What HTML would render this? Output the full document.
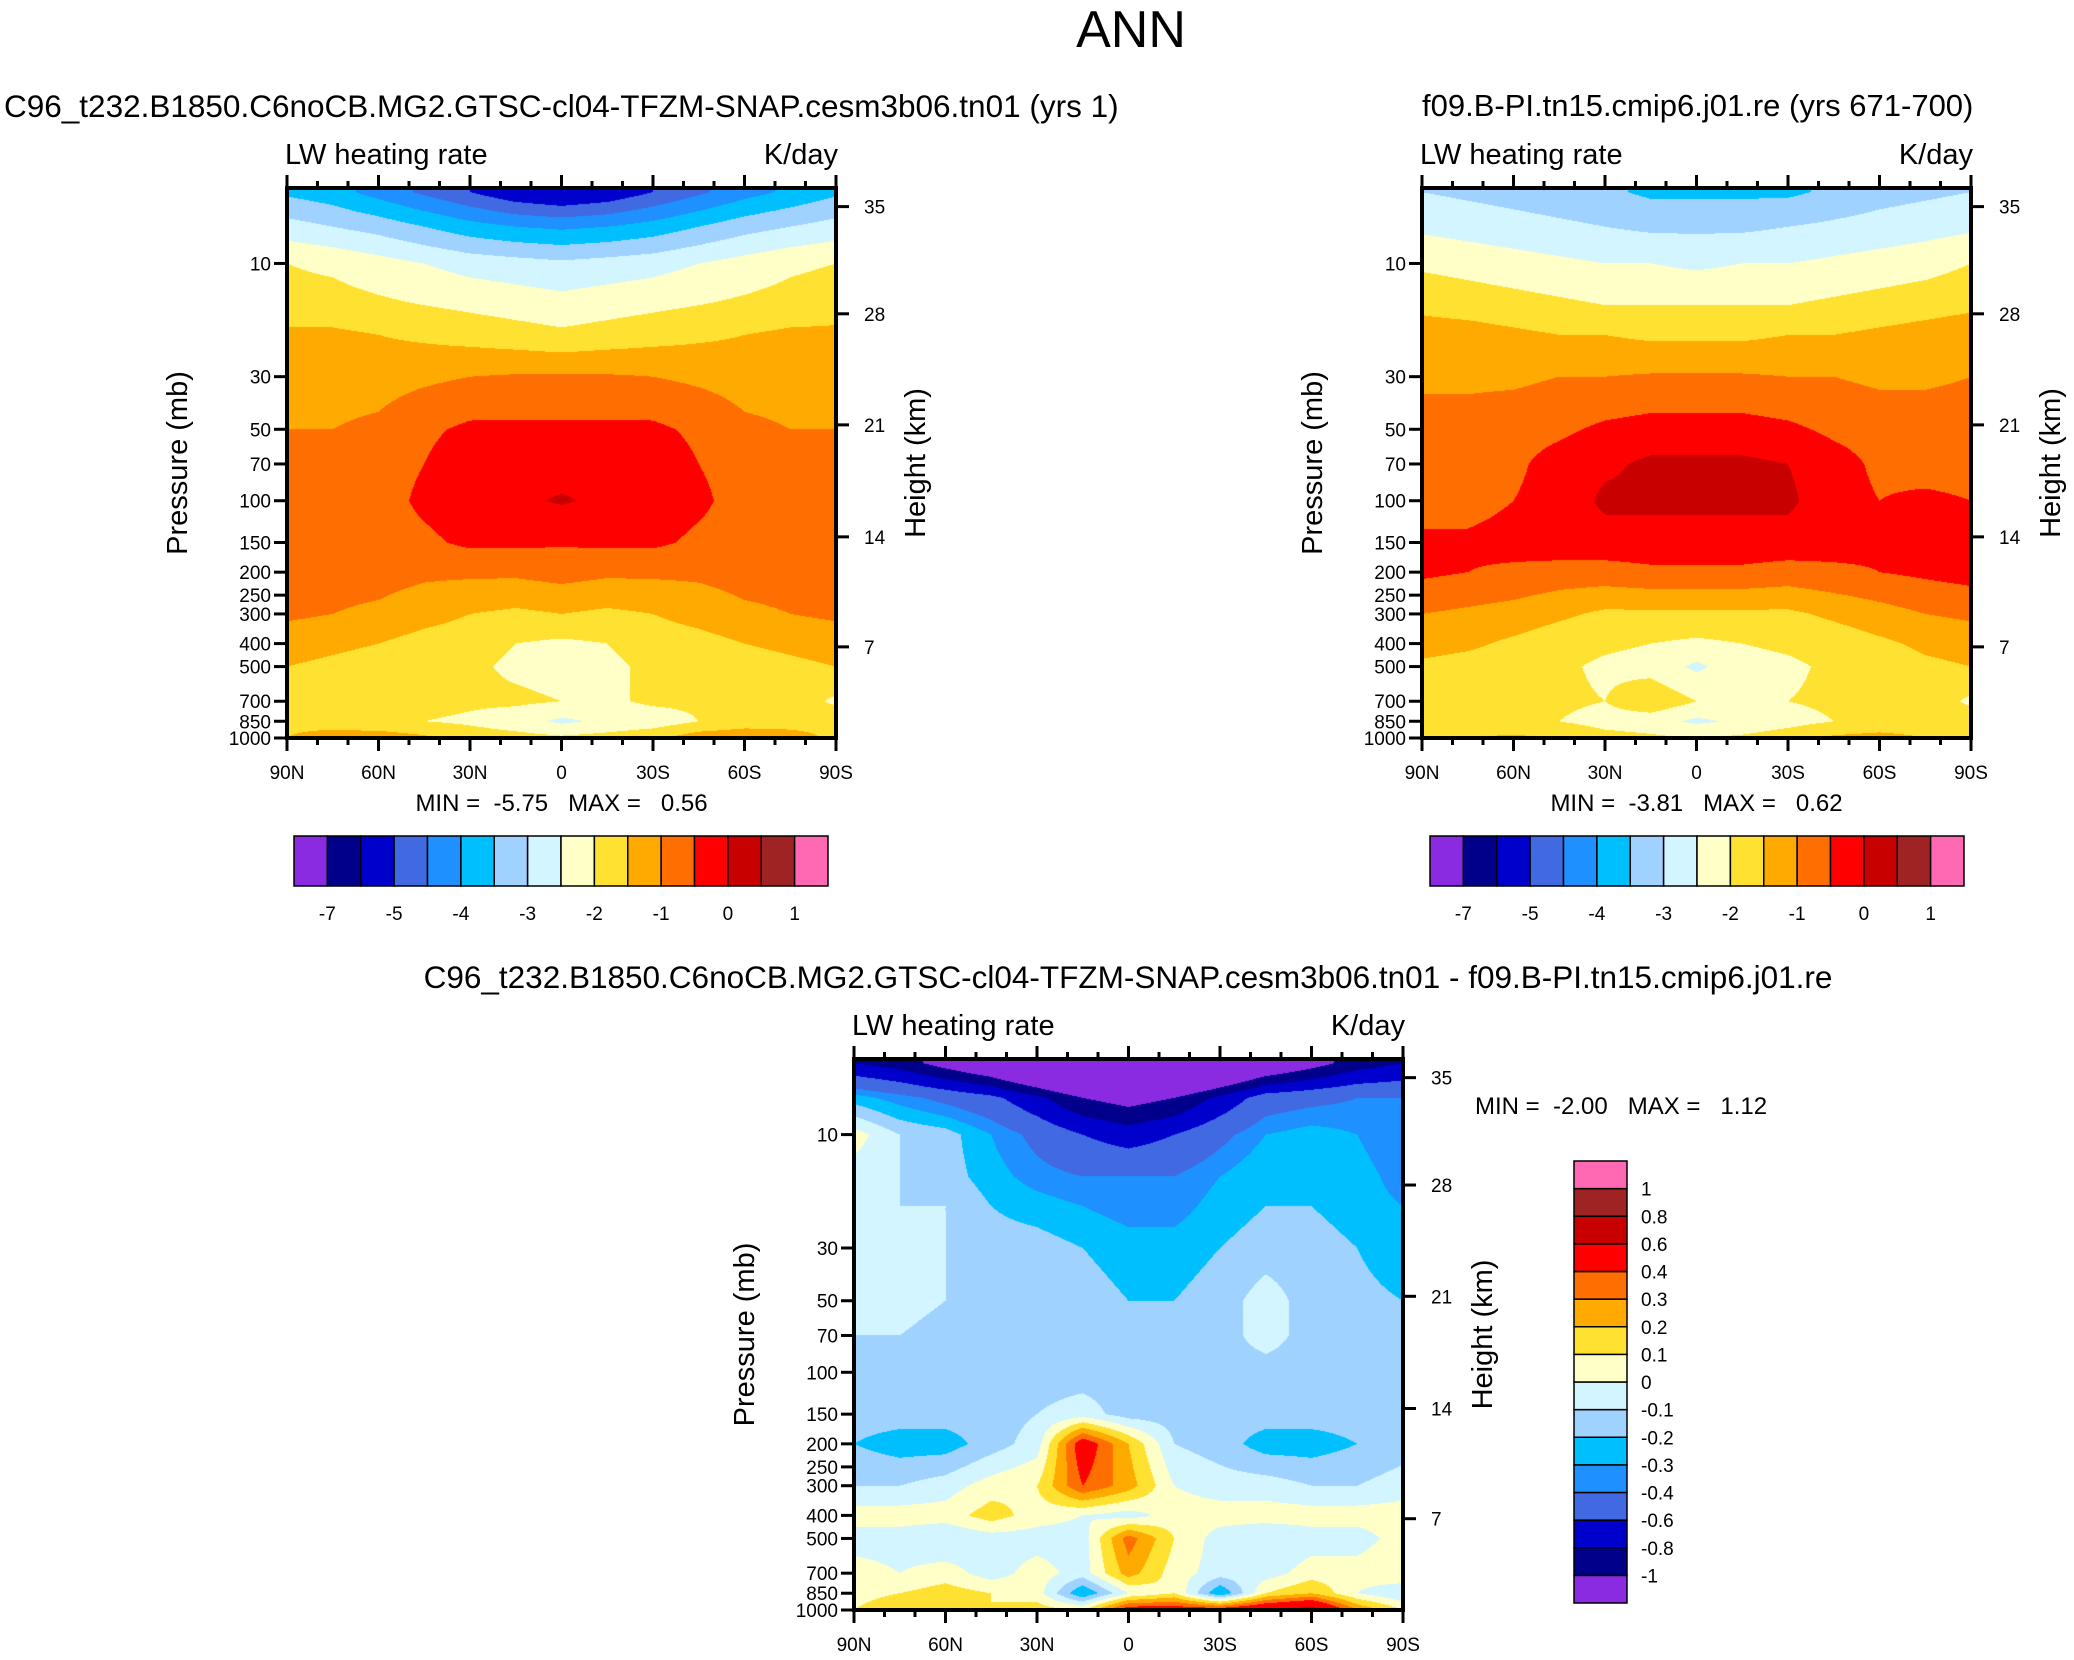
<!DOCTYPE html>
<html><head><meta charset="utf-8">
<style>
body{margin:0;background:#fff;}
#root{position:relative;width:2074px;height:1660px;overflow:hidden;font-family:"Liberation Sans",Arial,sans-serif;color:#000;}
.t{position:absolute;white-space:nowrap;}
canvas{position:absolute;}
svg{position:absolute;left:0;top:0;}
svg text{white-space:pre;}
</style></head>
<body>
<div id="root">
<div class="t" style="left:0;width:2262px;top:0;font-size:52px;text-align:center;">ANN</div>
<div class="t" style="left:4px;top:88px;font-size:31.5px;">C96_t232.B1850.C6noCB.MG2.GTSC-cl04-TFZM-SNAP.cesm3b06.tn01 (yrs 1)</div>
<div class="t" style="left:1422px;top:88px;font-size:31px;">f09.B-PI.tn15.cmip6.j01.re (yrs 671-700)</div>
<div class="t" style="left:0;width:2256px;text-align:center;top:959px;font-size:31.5px;">C96_t232.B1850.C6noCB.MG2.GTSC-cl04-TFZM-SNAP.cesm3b06.tn01 - f09.B-PI.tn15.cmip6.j01.re</div>
<canvas id="c0"></canvas>
<canvas id="c1"></canvas>
<canvas id="c2"></canvas>
<svg id="ov" width="2074" height="1660"></svg>
</div>
<script>
const lats=[90,75,60,45,30,15,0,-15,-30,-45,-60,-75,-90];
const plevs=[5,7,10,15,20,30,50,70,100,150,200,300,400,500,700,850,1000];
const leftVals=[
[-3.6,-3.8,-4.2,-4.6,-5.0,-5.4,-5.6,-5.4,-5.0,-4.6,-4.2,-3.9,-3.6],
[-2.8,-3.0,-3.2,-3.5,-3.8,-4.0,-4.1,-4.0,-3.8,-3.5,-3.2,-3.0,-2.8],
[-2.0,-2.1,-2.3,-2.5,-2.7,-2.8,-2.9,-2.8,-2.7,-2.5,-2.3,-2.1,-2.0],
[-1.8,-1.8,-1.9,-2.0,-2.1,-2.2,-2.3,-2.2,-2.1,-2.0,-1.9,-1.8,-1.7],
[-1.4,-1.4,-1.5,-1.6,-1.7,-1.8,-1.9,-1.8,-1.7,-1.6,-1.5,-1.4,-1.4],
[-1.2,-1.2,-1.2,-1.1,-1.0,-0.95,-0.95,-0.95,-1.0,-1.1,-1.2,-1.2,-1.2],
[-1.0,-1.0,-0.9,-0.6,-0.4,-0.4,-0.4,-0.4,-0.4,-0.6,-0.9,-1.0,-1.0],
[-0.8,-0.8,-0.7,-0.5,-0.2,-0.2,-0.2,-0.2,-0.2,-0.5,-0.7,-0.8,-0.8],
[-0.8,-0.8,-0.7,-0.4,-0.2,-0.1,0.05,-0.1,-0.2,-0.4,-0.7,-0.8,-0.8],
[-0.8,-0.8,-0.7,-0.6,-0.4,-0.4,-0.45,-0.4,-0.4,-0.6,-0.7,-0.8,-0.8],
[-0.8,-0.8,-0.8,-0.9,-0.9,-0.9,-0.8,-0.9,-0.9,-0.9,-0.8,-0.8,-0.8],
[-0.9,-1.0,-1.1,-1.3,-1.5,-1.6,-1.5,-1.6,-1.5,-1.3,-1.1,-1.0,-0.9],
[-1.3,-1.4,-1.5,-1.7,-1.8,-2.0,-2.1,-2.0,-1.8,-1.7,-1.5,-1.4,-1.3],
[-1.5,-1.6,-1.7,-1.8,-1.9,-2.1,-2.2,-2.1,-1.9,-1.8,-1.7,-1.6,-1.5],
[-1.6,-1.7,-1.8,-1.8,-1.9,-1.9,-2.0,-2.1,-1.9,-1.9,-1.8,-1.7,-2.1],
[-1.6,-1.7,-1.9,-2.0,-2.1,-2.3,-2.6,-2.4,-2.3,-2.0,-1.8,-1.7,-1.6],
[-1.5,-1.3,-1.2,-1.4,-1.7,-1.8,-1.9,-1.8,-1.6,-1.2,-1.1,-1.3,-1.6]];
const rightVals=[
[-3.0,-3.1,-3.2,-3.3,-3.4,-3.6,-3.6,-3.6,-3.6,-3.4,-3.2,-3.1,-3.0],
[-2.6,-2.7,-2.8,-2.9,-3.0,-3.1,-3.1,-3.1,-3.0,-2.9,-2.8,-2.7,-2.6],
[-2.1,-2.2,-2.3,-2.4,-2.5,-2.5,-2.6,-2.5,-2.5,-2.4,-2.3,-2.2,-2.0],
[-1.6,-1.7,-1.8,-1.9,-2.0,-2.0,-2.0,-2.0,-2.0,-1.9,-1.8,-1.7,-1.6],
[-1.3,-1.3,-1.4,-1.5,-1.5,-1.6,-1.6,-1.6,-1.5,-1.5,-1.4,-1.3,-1.2],
[-1.1,-1.1,-1.1,-1.0,-1.0,-0.95,-0.95,-0.95,-1.0,-1.0,-1.1,-1.1,-1.0],
[-0.8,-0.8,-0.7,-0.6,-0.4,-0.3,-0.3,-0.3,-0.4,-0.6,-0.7,-0.7,-0.7],
[-0.7,-0.7,-0.6,-0.3,-0.1,0.1,0.1,0.1,0.0,-0.3,-0.6,-0.7,-0.7],
[-0.7,-0.7,-0.5,-0.3,0.1,0.1,0.1,0.1,0.1,-0.3,-0.5,-0.4,-0.5],
[-0.4,-0.4,-0.3,-0.2,-0.2,-0.2,-0.2,-0.2,-0.2,-0.3,-0.4,-0.3,-0.3],
[-0.4,-0.5,-0.6,-0.7,-0.7,-0.6,-0.6,-0.6,-0.7,-0.6,-0.5,-0.4,-0.3],
[-1.0,-1.1,-1.2,-1.4,-1.6,-1.6,-1.6,-1.6,-1.6,-1.4,-1.2,-1.0,-0.9],
[-1.3,-1.4,-1.6,-1.8,-1.9,-2.0,-2.1,-2.0,-1.9,-1.8,-1.6,-1.4,-1.3],
[-1.6,-1.7,-1.8,-1.9,-2.1,-2.2,-2.6,-2.2,-2.1,-1.9,-1.8,-1.6,-1.5],
[-1.7,-1.8,-1.9,-1.9,-2.0,-1.6,-2.0,-2.1,-2.0,-1.9,-1.8,-1.7,-2.1],
[-1.7,-1.8,-1.9,-2.0,-2.2,-2.3,-2.6,-2.4,-2.2,-2.0,-1.9,-1.8,-1.7],
[-1.6,-1.5,-1.4,-1.5,-1.8,-1.9,-2.0,-1.9,-1.7,-1.4,-1.3,-1.5,-1.7]];
const diffVals=[
[-0.8,-0.9,-1.1,-1.3,-1.6,-1.9,-2.0,-1.9,-1.6,-1.3,-1.1,-0.9,-0.8],
[-0.25,-0.35,-0.45,-0.55,-0.75,-1.0,-1.1,-1.0,-0.75,-0.5,-0.45,-0.4,-0.4],
[0.05,-0.1,-0.15,-0.3,-0.45,-0.6,-0.7,-0.6,-0.45,-0.3,-0.25,-0.3,-0.4],
[-0.05,-0.1,-0.15,-0.25,-0.35,-0.4,-0.4,-0.4,-0.3,-0.2,-0.25,-0.25,-0.35],
[-0.05,-0.1,-0.1,-0.2,-0.25,-0.3,-0.35,-0.35,-0.25,-0.2,-0.2,-0.25,-0.3],
[-0.05,-0.05,-0.1,-0.15,-0.15,-0.2,-0.25,-0.25,-0.2,-0.15,-0.15,-0.2,-0.3],
[-0.05,-0.05,-0.1,-0.15,-0.15,-0.15,-0.2,-0.2,-0.15,-0.05,-0.15,-0.15,-0.2],
[-0.1,-0.1,-0.15,-0.15,-0.15,-0.15,-0.15,-0.15,-0.15,-0.05,-0.15,-0.15,-0.15],
[-0.15,-0.15,-0.15,-0.15,-0.15,-0.15,-0.15,-0.15,-0.15,-0.15,-0.15,-0.15,-0.15],
[-0.15,-0.15,-0.15,-0.15,-0.1,-0.05,-0.15,-0.15,-0.15,-0.15,-0.15,-0.15,-0.15],
[-0.2,-0.25,-0.25,-0.15,-0.05,0.5,0.2,-0.1,-0.15,-0.25,-0.25,-0.2,-0.15],
[-0.1,-0.1,-0.05,0.05,0.1,0.4,0.25,0.0,-0.05,-0.05,-0.1,-0.1,-0.05],
[0.05,0.05,0.05,0.15,0.05,0.0,-0.05,0.05,0.05,0.05,0.05,0.05,0.05],
[-0.05,-0.05,-0.1,-0.05,-0.05,-0.05,0.35,0.1,-0.05,-0.1,-0.05,-0.05,0.05],
[0.05,0.0,0.05,-0.05,0.05,-0.05,0.25,0.05,-0.05,-0.05,0.05,0.05,0.1],
[0.05,0.1,0.15,0.1,0.05,-0.3,0.0,0.1,-0.3,0.1,0.2,0.0,-0.1],
[0.1,0.2,0.2,0.1,0.15,0.1,0.5,0.5,0.5,0.6,0.7,0.3,0.1]];
const levelsAbs=[-7,-6,-5,-4.5,-4,-3.5,-3,-2.5,-2,-1.5,-1,-0.5,0,0.5,1];
const labelsAbs=["-7","","-5","","-4","","-3","","-2","","-1","","0","","1"];
const levelsDiff=[-1,-0.8,-0.6,-0.4,-0.3,-0.2,-0.1,0,0.1,0.2,0.3,0.4,0.6,0.8,1];
const labelsDiff=["-1","-0.8","-0.6","-0.4","-0.3","-0.2","-0.1","0","0.1","0.2","0.3","0.4","0.6","0.8","1"];
const colors=["#8a2be2","#00008b","#0000cd","#4169e1","#1e90ff","#00bfff","#a0d2ff","#d2f5ff","#ffffc8","#ffe132","#ffaa00","#ff6e00","#ff0000","#c80000","#a02323","#ff69b4"];
const pTicks=[10,30,50,70,100,150,200,250,300,400,500,700,850,1000];
const zTicks=[35,28,21,14,7];
const zTickP=[5.76,16.3,47.9,142,413];
const latTicks=[90,60,30,0,-30,-60,-90];
const latTickLabels=["90N","60N","30N","0","30S","60S","90S"];
const stats=[["-5.75","0.56"],["-3.81","0.62"],["-2.00","1.12"]];

const LTOP=0.682, LBOT=3;
const panels=[
 {id:'c0',x:287,y:188,w:549,h:550,vals:leftVals,lev:levelsAbs,name:'left'},
 {id:'c1',x:1422,y:188,w:549,h:550,vals:rightVals,lev:levelsAbs,name:'right'},
 {id:'c2',x:854,y:1059,w:549,h:551,vals:diffVals,lev:levelsDiff,name:'diff'}];
const lp=plevs.map(p=>Math.log10(p));
function rgb(h){return [parseInt(h.slice(1,3),16),parseInt(h.slice(3,5),16),parseInt(h.slice(5,7),16)];}
const crgb=colors.map(rgb);
function cidx(v,lev){let i=0;while(i<lev.length&&v>=lev[i])i++;return i;}
const NS='http://www.w3.org/2000/svg';
const ov=document.getElementById('ov');
function el(tag,attrs,txt){const e=document.createElementNS(NS,tag);for(const k in attrs)e.setAttribute(k,attrs[k]);if(txt!==undefined)e.textContent=txt;ov.appendChild(e);return e;}

panels.forEach((P,pi)=>{
 const cv=document.getElementById(P.id);
 cv.width=P.w;cv.height=P.h;cv.style.left=P.x+'px';cv.style.top=P.y+'px';
 const ctx=cv.getContext('2d');const img=ctx.createImageData(P.w,P.h);
 for(let iy=0;iy<P.h;iy++){
  let L=LTOP+(iy+0.5)/P.h*(LBOT-LTOP);
  let k=0;if(L<=lp[0]){k=0;}else{while(k<lp.length-2&&L>lp[k+1])k++;}
  let t=(L-lp[k])/(lp[k+1]-lp[k]);t=Math.max(0,Math.min(1,t));
  for(let ix=0;ix<P.w;ix++){
   let fx=(ix+0.5)/P.w*(lats.length-1);let j=Math.min(lats.length-2,Math.floor(fx));let s=fx-j;
   const r0=P.vals[k],r1=P.vals[k+1];
   const v=(r0[j]*(1-s)+r0[j+1]*s)*(1-t)+(r1[j]*(1-s)+r1[j+1]*s)*t;
   const c=crgb[cidx(v,P.lev)];const o=(iy*P.w+ix)*4;
   img.data[o]=c[0];img.data[o+1]=c[1];img.data[o+2]=c[2];img.data[o+3]=255;
  }
 }
 ctx.putImageData(img,0,0);
 const yOf=p=>P.y+(Math.log10(p)-LTOP)/(LBOT-LTOP)*P.h;
 const xOf=lat=>P.x+(90-lat)/180*P.w;
 const fr=el('rect',{x:P.x,y:P.y,width:P.w,height:P.h,fill:'none',stroke:'#000','stroke-width':4});
 
 
 pTicks.forEach(p=>{
  const y=yOf(p);
  const tk=el('line',{x1:P.x-13,x2:P.x,y1:y,y2:y,stroke:'#000','stroke-width':3});
  
  
  const tl=el('text',{x:P.x-16,y:y+7,'font-size':19,'text-anchor':'end','font-family':'Liberation Sans'},String(p));
  
  
 });
 zTicks.forEach((z,i)=>{
  const y=yOf(zTickP[i]);
  const tk=el('line',{x1:P.x+P.w,x2:P.x+P.w+13,y1:y,y2:y,stroke:'#000','stroke-width':3});
  
  
  const tl=el('text',{x:P.x+P.w+28,y:y+7,'font-size':19,'font-family':'Liberation Sans'},String(z));
  
  
 });
 for(let lat=90;lat>=-90;lat-=10){
  const x=xOf(lat);const maj=(lat%30===0);const len=maj?13:7;
  const a=el('line',{x1:x,x2:x,y1:P.y-len,y2:P.y,stroke:'#000','stroke-width':3});
  
  
  const b=el('line',{x1:x,x2:x,y1:P.y+P.h,y2:P.y+P.h+len,stroke:'#000','stroke-width':3});
  
  
 }
 latTicks.forEach((lat,i)=>{
  const tl=el('text',{x:xOf(lat),y:P.y+P.h+41,'font-size':19,'text-anchor':'middle','font-family':'Liberation Sans'},latTickLabels[i]);
  
  
 });
 const a1=el('text',{x:P.x-2,y:P.y-24,'font-size':29,'font-family':'Liberation Sans'},'LW heating rate');
 
 
 const a2=el('text',{x:P.x+P.w+2,y:P.y-24,'font-size':29,'text-anchor':'end','font-family':'Liberation Sans'},'K/day');
 
 
 const cy=P.y+P.h/2;
 const yl=el('text',{x:0,y:0,'font-size':29,'text-anchor':'middle','font-family':'Liberation Sans',transform:`translate(${P.x-100},${cy}) rotate(-90)`},'Pressure (mb)');
 
 
 const hl=el('text',{x:0,y:0,'font-size':29,'text-anchor':'middle','font-family':'Liberation Sans',transform:`translate(${P.x+P.w+89},${cy}) rotate(-90)`},'Height (km)');
 
 
 let st;
 const txt=`MIN =  ${stats[pi][0]}   MAX =   ${stats[pi][1]}`;
 if(pi<2){st=el('text',{x:P.x+P.w/2,y:P.y+P.h+73,'font-size':24,'text-anchor':'middle','font-family':'Liberation Sans'},txt);}
 else{st=el('text',{x:1475,y:1114,'font-size':24,'font-family':'Liberation Sans'},txt);}
 
 
});
[[294,0],[1430,1]].forEach(([x0,pi])=>{
 const w=(828-294)/16,y0=836,h=50;
 colors.forEach((c,i)=>{
  const r=el('rect',{x:x0+i*w,y:y0,width:w,height:h,fill:c,stroke:'#000','stroke-width':1.5});
  
  
 });
 levelsAbs.forEach((v,i)=>{
  if(!labelsAbs[i])return;
  const t=el('text',{x:x0+(i+1)*w,y:y0+h+34,'font-size':19,'text-anchor':'middle','font-family':'Liberation Sans'},labelsAbs[i]);
  
  
 });
});
{
 const x0=1574,y0=1161,w=53,h=(1603-1161)/16;
 colors.forEach((c,i)=>{
  const r=el('rect',{x:x0,y:y0+(15-i)*h,width:w,height:h,fill:c,stroke:'#000','stroke-width':1.5});
  
  
 });
 levelsDiff.forEach((v,i)=>{
  const t=el('text',{x:x0+w+14,y:y0+(15-i)*h+7,'font-size':19,'font-family':'Liberation Sans'},labelsDiff[i]);
  
  
 });
}
</script>
</body></html>
